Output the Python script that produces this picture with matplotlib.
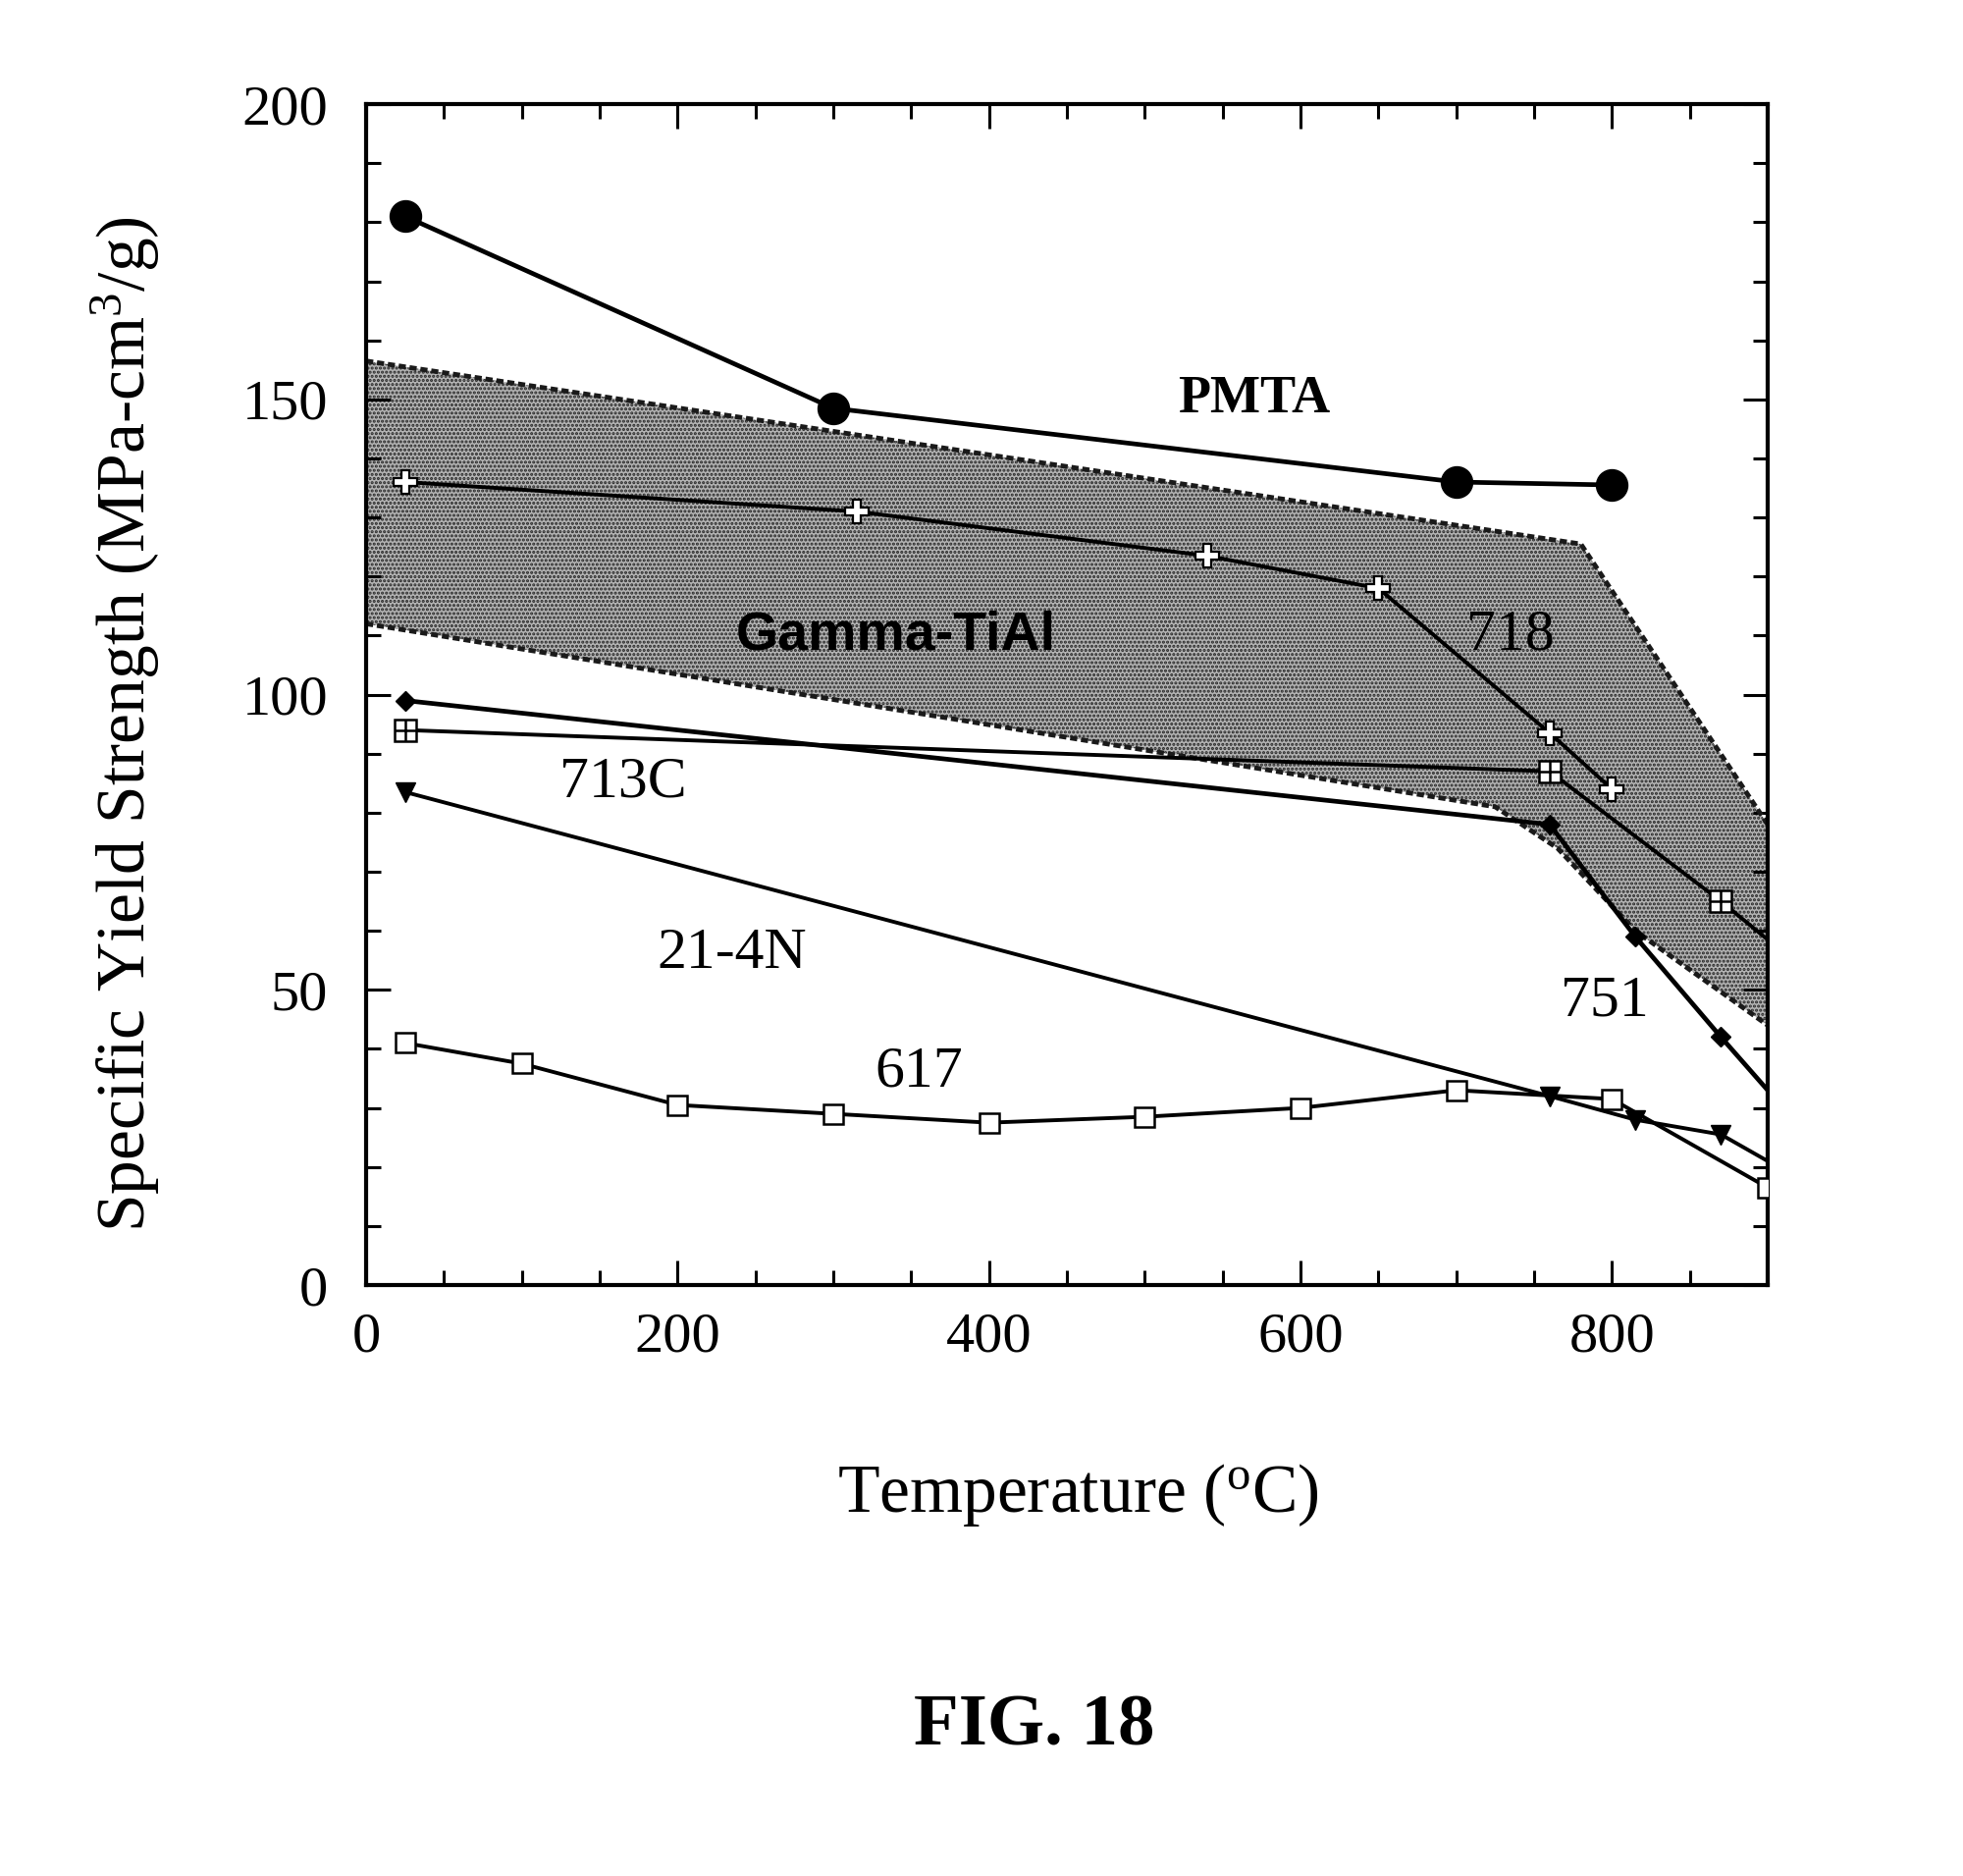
import numpy as np
import matplotlib
matplotlib.use('Agg')
import matplotlib.pyplot as plt
from matplotlib.ticker import MultipleLocator

matplotlib.rcParams.update({
    'font.family': ['Liberation Serif', 'DejaVu Serif'],
    'mathtext.fontset': 'custom',
    'mathtext.rm': 'Liberation Serif',
    'mathtext.it': 'Liberation Serif:italic',
    'hatch.linewidth': 1.5,
})

# %% data
# PMTA
pmta_t = [25, 300, 700, 800]
pmta_s = [181, 148.5, 136, 135.5]
# 718
a718_t = [25, 315, 540, 650, 760, 800]
a718_s = [136, 131, 123.5, 118, 93.5, 84]
# 713C
a713_t = [25, 760, 870, 900]
a713_s = [94, 87, 65, 58.5]
# 751
a751_t = [25, 760, 815, 870, 900]
a751_s = [99, 78, 59, 42, 33]
# 21-4N
a214_t = [25, 760, 815, 870, 900]
a214_s = [83.5, 32, 28, 25.5, 21]
# 617
a617_t = [25, 100, 200, 300, 400, 500, 600, 700, 800, 900]
a617_s = [41, 37.5, 30.5, 29, 27.5, 28.5, 30, 33, 31.5, 16.5]
# Gamma-TiAl band
band_up_t = [0, 780, 900]
band_up_s = [156.5, 125.5, 78]
band_lo_t = [0, 725, 765, 815, 900]
band_lo_s = [112, 81, 74, 60, 44]

# curve labels
lbl_text = ['PMTA', 'Gamma-TiAl', '718', '713C', '21-4N', '751', '617']
lbl_t = [570, 340, 735, 165, 235, 795, 355]
lbl_s = [150, 110, 110, 85, 56, 48, 36]

# %% figure
fig = plt.figure(figsize=(20, 19.11), dpi=100)
ax = fig.add_axes([0.1865, 0.315, 0.714, 0.6295])

# shaded band
poly_t = np.concatenate([band_up_t, band_lo_t[::-1]])
poly_s = np.concatenate([band_up_s, band_lo_s[::-1]])
ax.fill(poly_t, poly_s, facecolor='0.7', edgecolor='0.15', hatch='....',
        linewidth=0, zorder=1)
ax.plot(band_up_t, band_up_s, color='0.1', lw=3.5, ls=(0, (1.5, 0.8)), zorder=2)
ax.plot(band_lo_t, band_lo_s, color='0.1', lw=3.5, ls=(0, (1.5, 0.8)), zorder=2)

lw = 2.8
# 617
ax.plot(a617_t, a617_s, color='k', lw=lw, marker='s', ms=15,
        mfc='white', mec='k', mew=1.8, zorder=4)
# 21-4N
ax.plot(a214_t, a214_s, color='k', lw=lw, marker='v', ms=14,
        mfc='k', mec='k', markevery=[0, 1, 2, 3], zorder=4)
# 751
ax.plot(a751_t, a751_s, color='k', lw=3.4, marker='D', ms=10,
        mfc='k', mec='k', markevery=[0, 1, 2, 3], zorder=4)
# 713C  (square with a cross)
ax.plot(a713_t, a713_s, color='k', lw=lw, marker='s', ms=16,
        mfc='white', mec='k', mew=1.8, markevery=[0, 1, 2], zorder=4)
ax.plot(a713_t[:3], a713_s[:3], ls='none', marker='+', ms=16,
        mec='k', mew=1.8, zorder=5)
# 718
ax.plot(a718_t, a718_s, color='k', lw=lw, marker='P', ms=17,
        mfc='white', mec='k', mew=1.6, zorder=4)
# PMTA
ax.plot(pmta_t, pmta_s, color='k', lw=3.4, marker='o', ms=23,
        mfc='k', mec='k', zorder=4)

# labels on the curves
for txt, t, s in zip(lbl_text, lbl_t, lbl_s):
    if txt == 'PMTA':
        ax.text(t, s, txt, fontsize=39, fontweight='bold', ha='center', va='center', zorder=6)
    elif txt == 'Gamma-TiAl':
        ax.text(t, s, txt, fontsize=40, fontweight='bold', family='Liberation Sans',
                ha='center', va='center', zorder=6)
    else:
        ax.text(t, s, txt, fontsize=43, ha='center', va='center', zorder=6)

ax.set_xlim(0, 900)
ax.set_ylim(0, 200)
ax.xaxis.set_major_locator(MultipleLocator(200))
ax.xaxis.set_minor_locator(MultipleLocator(50))
ax.yaxis.set_major_locator(MultipleLocator(50))
ax.yaxis.set_minor_locator(MultipleLocator(10))
ax.tick_params(which='both', direction='in', top=True, right=True, width=2.2)
ax.tick_params(which='major', length=18)
ax.tick_params(which='minor', length=11)
ax.tick_params(axis='x', labelsize=42, pad=20)
ax.tick_params(axis='y', labelsize=42, pad=28)
for sp in ax.spines.values():
    sp.set_linewidth(3)

ax.set_xlabel(r'Temperature ($^{\mathrm{o}}$C)', fontsize=50)
ax.xaxis.set_label_coords(0.508, -0.15)
ax.set_ylabel(r'Specific Yield Strength (MPa-cm$^{3}$/g)', fontsize=50)
ax.yaxis.set_label_coords(-0.146, 0.475)

fig.text(0.527, 0.0795, 'FIG. 18', fontsize=54, fontweight='bold', ha='center', va='center')

fig.savefig('out.png', dpi=100)
